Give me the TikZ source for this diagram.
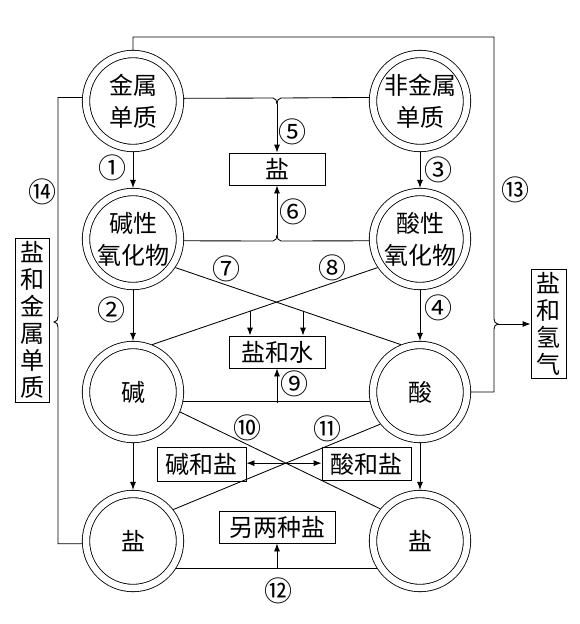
\documentclass[tikz,border=0pt]{standalone}
\usepackage{fontspec}
\newfontfamily\cjk{Noto Sans CJK SC}
\usetikzlibrary{arrows.meta,calc}
\begin{document}
\begin{tikzpicture}[x=1pt,y=1pt, line width=0.85pt,
  dc/.style={circle, draw, double, double distance=6.5pt, minimum size=94pt, inner sep=0pt, outer sep=4.1pt, align=center, font=\cjk\fontsize{24}{32}\selectfont},
  bx/.style={draw, rectangle, inner sep=0pt, align=center, font=\cjk\fontsize{24}{27}\selectfont},
  lb/.style={inner sep=0pt, font=\cjk\fontsize{28}{28}\selectfont},
  arr/.style={-{Latex[length=8pt,width=6pt]}}]
\useasboundingbox (0,0) rectangle (580,-624);
% circles
\node[dc] (js)  at (133,-101) {金属\\单质};
\node[dc] (fjs) at (420,-101) {非金属\\单质};
\node[dc] (jy)  at (133,-239) {碱性\\氧化物};
\node[dc] (sy)  at (420,-239) {酸性\\氧化物};
\node[dc] (j)   at (133,-392) {碱};
\node[dc] (s)   at (420,-392) {酸};
\node[dc] (yl)  at (133,-541) {盐};
\node[dc] (yr)  at (420,-541) {盐};
% boxes
\node[bx, minimum width=96pt, minimum height=32pt] (yan) at (277,-169) {盐};
\node[bx, minimum width=96pt, minimum height=32pt] (ys) at (277,-352) {盐和水};
\node[bx, minimum width=89pt, minimum height=34pt] (jhy) at (201.5,-464) {碱和盐};
\node[bx, minimum width=89pt, minimum height=33pt] (shy) at (366.5,-464) {酸和盐};
\node[bx, minimum width=116pt, minimum height=32pt] (lly) at (277,-527) {另两种盐};
\node[bx, minimum width=34pt, minimum height=164pt] (yjs) at (32,-320) {盐\\和\\金\\属\\单\\质};
\node[bx, minimum width=35pt, minimum height=109pt] (yqq) at (548.5,-324) {盐\\和\\氢\\气};
% vertical arrows
\draw[arr] (js.south) -- (jy.north);
\draw[arr] (fjs.south) -- (sy.north);
\draw[arr] (jy.south) -- (j.north);
\draw[arr] (sy.south) -- (s.north);
\draw[arr] (j.south) -- (yl.north);
\draw[arr] (s.south) -- (yr.north);
% (5) merge
\coordinate (m5) at (277,-104);
\draw (js.3.4) -- (273,-98) to[out=0,in=90] (m5);
\draw (fjs.176.6) -- (281,-98) to[out=180,in=90] (m5);
\draw[arr] (m5) -- (yan.north);
% (6) merge
\coordinate (m6) at (277,-235);
\draw (jy.-2.2) -- (273,-241) to[out=0,in=-90] (m6);
\draw (sy.182.2) -- (281,-241) to[out=180,in=-90] (m6);
\draw[arr] (m6) -- (yan.south);
% (7)(8) cross
\draw (jy.-34) -- (s.112.6);
\draw (sy.214) -- (j.68.8);
\coordinate (va) at (250,0); \coordinate (vb) at (250,-10);
\coordinate (vc) at (303,0); \coordinate (vd) at (303,-10);
\coordinate (a7) at (intersection of sy.214--j.68.8 and va--vb);
\coordinate (a8) at (intersection of jy.-34--s.112.6 and vc--vd);
\draw[arr] (a7) -- (a7 |- ys.north);
\draw[arr] (a8) -- (a8 |- ys.north);
% (9)
\draw (j.-11.9) -- (s.191.9);
\coordinate (m9) at (277,-403);
\draw[arr] (m9) -- (ys.south);
% (10)(11) cross
\draw (j.-23.6) -- (yr.141.8);
\draw (s.219.8) -- (yl.38.2);
\coordinate (X) at (intersection of j.-23.6--yr.141.8 and s.219.8--yl.38.2);
\draw[arr] (X) -- (X -| jhy.east);
\draw[arr] (X) -- (X -| shy.west);
% (12)
\draw (yl.-32) -- (yr.212);
\coordinate (m12) at (277,-568);
\draw[arr] (m12) -- (lly.south);
% (13) loop
\coordinate (tR) at (498,-324);
\draw (js.north) |- (494,-37) -- (494,-319) to[out=-90,in=180] (tR) to[out=180,in=90] (494,-329) |- (s.east);
\draw[arr] (tR) -- (yqq.west);
% (14) loop
\coordinate (tL) at (54,-322);
\draw (js.176.6) -| (58,-317) to[out=-90,in=0] (tL) to[out=0,in=90] (58,-327) |- (yl.183.4);
% labels
\node[lb] (l1) at (112,-168) {①};
\node[lb] (l2) at (111,-310) {②};
\node[lb] (l3) at (438,-170) {③};
\node[lb] (l4) at (438,-308) {④};
\node[lb] (l5) at (292,-132) {⑤};
\node[lb] (l6) at (293,-212) {⑥};
\node[lb] (l7) at (226,-269) {⑦};
\node[lb] (l8) at (332,-268) {⑧};
\node[lb] (l9) at (294,-384) {⑨};
\node[lb] (l10) at (247,-428) {⑩};
\node[lb] (l11) at (327,-429) {⑪};
\node[lb] (l12) at (278,-591) {⑫};
\node[lb] (l13) at (515,-190) {⑬};
\node[lb] (l14) at (42,-192) {⑭};
\end{tikzpicture}
\end{document}
